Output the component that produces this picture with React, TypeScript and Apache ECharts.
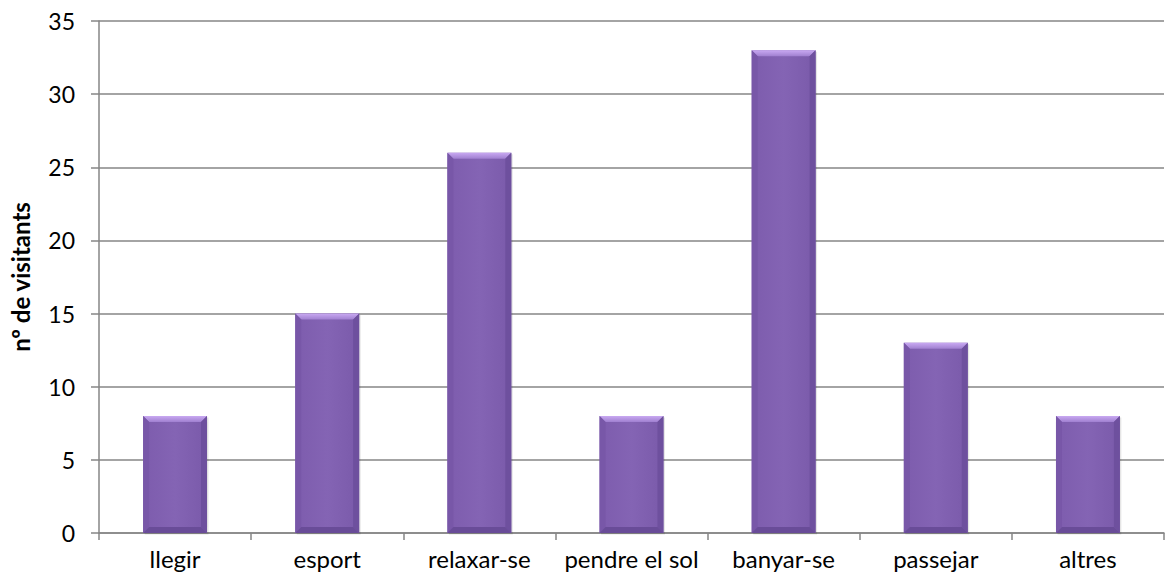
import React, { useEffect, useRef } from "react";
import * as echarts from "echarts";

const categories = ["llegir", "esport", "relaxar-se", "pendre el sol", "banyar-se", "passejar", "altres"];
const values = [8, 15, 26, 8, 33, 13, 8];
const yTicks = { min: 0, max: 35, interval: 5 };
const yName = "nº de visitants";

export default function App() {
  const ref = useRef<HTMLDivElement>(null);
  useEffect(() => {
    if (!ref.current) return;
    const chart = echarts.init(ref.current, null, { renderer: "svg" });
    const font = "Lato";
    chart.setOption({
      animation: false,
      backgroundColor: "#ffffff",
      grid: { left: 96, right: 4, top: 21, bottom: 50, containLabel: false },
      xAxis: {
        type: "category",
        data: categories,
        axisLine: { lineStyle: { color: "#868686", width: 1.5 } },
        axisTick: { show: true, length: 7, lineStyle: { color: "#868686", width: 1.5 } },
        axisLabel: { color: "#000", fontSize: 24, fontFamily: font, margin: 13, interval: 0, hideOverlap: false },
      },
      yAxis: {
        type: "value",
        min: yTicks.min,
        max: yTicks.max,
        interval: yTicks.interval,
        name: yName,
        nameLocation: "middle",
        nameGap: 67,
        nameTextStyle: { color: "#000", fontSize: 24, fontWeight: "bold", fontFamily: font },
        axisLine: { show: true, lineStyle: { color: "#868686", width: 1.5 } },
        axisTick: { show: true, length: 8, lineStyle: { color: "#868686", width: 1.5 } },
        axisLabel: { color: "#000", fontSize: 23, fontFamily: font, margin: 24 },
        splitLine: { lineStyle: { color: "#868686", width: 1.5 } },
      },
      series: [
        {
          type: "custom",
          data: values.map((v, i) => [i, v]),
          renderItem: (params: any, api: any) => {
            const top = api.coord([api.value(0), api.value(1)]);
            const base = api.coord([api.value(0), 0]);
            const band = api.size([1, 0])[0];
            const w = band * 0.42;
            const x0 = top[0] - w / 2;
            const x1 = top[0] + w / 2;
            const y0 = top[1];
            const y1 = base[1];
            const b = 6;
            return {
              type: "group",
              children: [
                { type: "rect", shape: { x: x0 + 1.5, y: y0 + 1.5, width: w, height: y1 - y0 }, style: { fill: "rgba(0,0,0,0.10)" } },
                { type: "rect", shape: { x: x0, y: y0, width: w, height: y1 - y0 }, style: {
                  fill: new echarts.graphic.LinearGradient(0, 0, 1, 0, [
                    { offset: 0, color: "#7d5cad" },
                    { offset: 0.5, color: "#8464b4" },
                    { offset: 1, color: "#7a5aaa" },
                  ]) } },
                { type: "polygon", shape: { points: [[x0, y0], [x1, y0], [x1 - b, y0 + b], [x0 + b, y0 + b]] }, style: {
                  fill: new echarts.graphic.LinearGradient(0, 0, 0, 1, [
                    { offset: 0, color: "#c9a9f2" },
                    { offset: 1, color: "#a080d0" },
                  ]) } },
                { type: "polygon", shape: { points: [[x0, y0], [x0 + b, y0 + b], [x0 + b, y1 - b], [x0, y1]] }, style: { fill: "#7857a8" } },
                { type: "polygon", shape: { points: [[x1, y0], [x1 - b, y0 + b], [x1 - b, y1 - b], [x1, y1]] }, style: { fill: "#6e509e" } },
                { type: "polygon", shape: { points: [[x0, y1], [x0 + b, y1 - b], [x1 - b, y1 - b], [x1, y1]] }, style: { fill: "#694c98" } },
              ],
            };
          },
        },
      ],
    });
    return () => chart.dispose();
  }, []);
  return <div ref={ref} style={{ position: "fixed", left: 0, top: 0, width: 1168, height: 583 }} />;
}
